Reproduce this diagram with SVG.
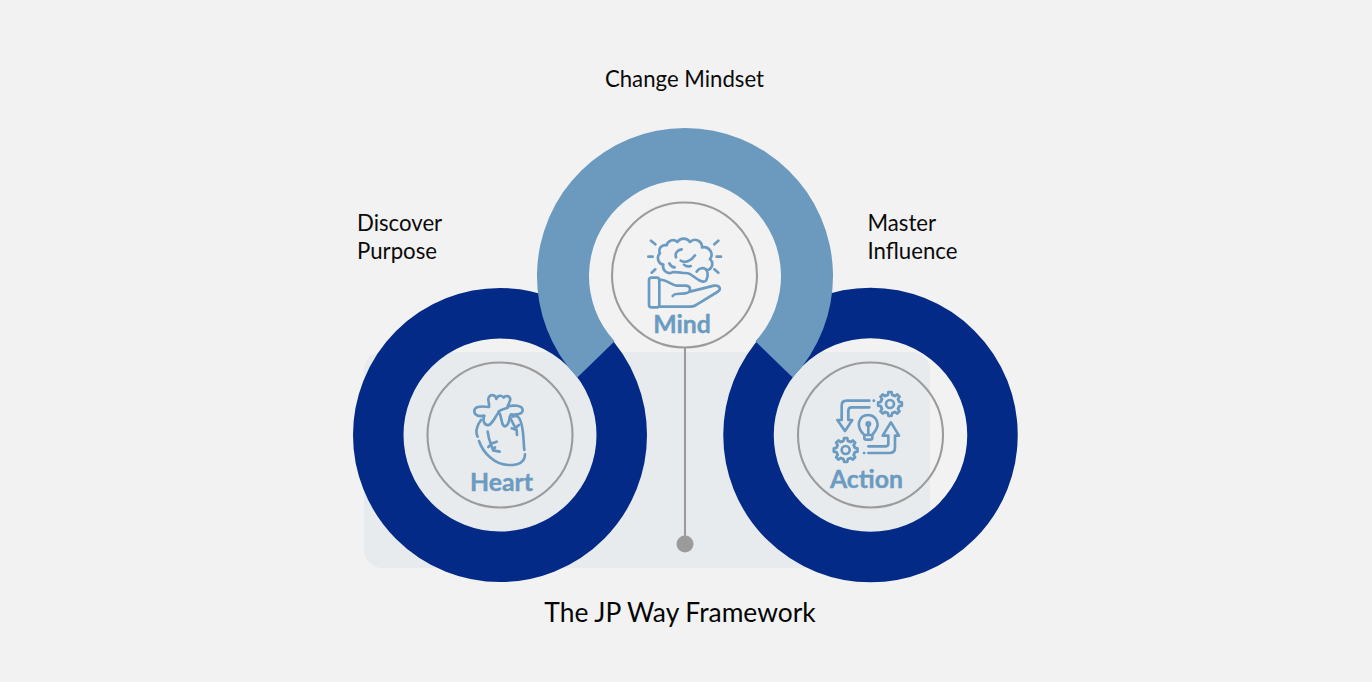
<svg xmlns="http://www.w3.org/2000/svg" xmlns:xlink="http://www.w3.org/1999/xlink" width="1372" height="682" viewBox="0 0 1372 682">
<style>
.lbl{font-family:"Lato","Noto Sans",sans-serif;font-size:22.2px;fill:#0a0a0a}
.title{font-family:"Lato","Noto Sans",sans-serif;font-size:26.4px;fill:#050505}
.nm{font-family:"Lato","Noto Sans",sans-serif;font-size:24.8px;font-weight:700;fill:#6c9bc1;stroke:#6c9bc1;stroke-width:.4;text-anchor:middle}
.ring{fill:none;stroke:#032a87;stroke-width:50.5}
.inner{fill:none;stroke:#9b9b9b;stroke-width:2.1}
.ic{fill:none;stroke:#6c9bc1;stroke-width:8;stroke-linecap:round;stroke-linejoin:round}
</style>
<defs>
<path id="tooth" d="M25.9-10.700L27.300-6.300L35.600-5V5L27.300 6.300L25.900 10.700"/>
<g id="gear" class="ic">
<use xlink:href="#tooth" href="#tooth"/>
<use xlink:href="#tooth" href="#tooth" transform="rotate(45)"/>
<use xlink:href="#tooth" href="#tooth" transform="rotate(90)"/>
<use xlink:href="#tooth" href="#tooth" transform="rotate(135)"/>
<use xlink:href="#tooth" href="#tooth" transform="rotate(180)"/>
<use xlink:href="#tooth" href="#tooth" transform="rotate(225)"/>
<use xlink:href="#tooth" href="#tooth" transform="rotate(270)"/>
<use xlink:href="#tooth" href="#tooth" transform="rotate(315)"/>
<circle r="12"/>
</g>
</defs>
<rect width="1372" height="682" fill="#f2f2f2"/>
<rect id="panel" x="364" y="352" width="566" height="216" rx="18" fill="#e8ebee"/>

<g id="heart">
<circle class="ring" cx="500" cy="435" r="121.750"/>
<circle class="inner" cx="500" cy="435" r="72.500"/>
<g transform="translate(465 385) scale(.3333)">
<path class="ic" d="M58 92C42 96 28 92 28 78C28 66 42 62 72 66C74 52 66 44 72 36A12 12 0 0 1 94 42A12 12 0 0 1 116 38A11 11 0 0 1 136 42C136 50 130 56 128 64C145 60 172 60 173 75C173 88 155 90 138 88C130 100 135 122 120 124C108 124 112 98 102 82C92 90 88 110 72 120C58 122 52 108 58 92Z"/>
<path class="ic" d="M100 80C108 72 118 72 128 68"/>
<path class="ic" d="M48 105C32 125 32 145 38 155M42 168C55 205 90 240 130 240C160 241 180 232 180 208M178 195C174 165 178 125 163 100C158 92 150 92 144 95"/>
<path class="ic" d="M68 140C70 155 72 165 78 178L84 195M78 178L70 186M78 176L95 170M84 195L90 187M84 196L104 200"/>
<path class="ic" d="M135 95C140 110 148 122 155 135L156 150M150 130L162 120M155 135L140 130"/>
</g>
<text class="nm" x="501.500" y="491">Heart</text>
</g>

<g id="action">
<circle class="ring" cx="870.500" cy="435" r="122"/>
<circle class="inner" cx="870.500" cy="435" r="72.500"/>
<g transform="translate(825 385) scale(.3333)">
<use href="#gear" xlink:href="#gear" transform="translate(195 57)"/>
<use href="#gear" xlink:href="#gear" transform="translate(62 195)"/>
<path class="ic" d="M133 47H65Q50 47 50 62V105H37L60 138L82 105H70V78Q70 67 80 67H133M146 47H147"/>
<path class="ic" d="M118 150C105 138 100 128 102 112C106 96 118 90 130 90C146 90 158 104 158 118C158 132 148 140 142 150V158Q142 164 136 164H124Q118 164 118 158ZM118 150H142M130 123V150"/>
<circle class="ic" cx="130" cy="117" r="5"/>
<path class="ic" d="M130 184H180Q190 184 190 176V152H173L198 112L222 152H210V188Q210 204 192 204H130M117 204H118"/>
</g>
<text class="nm" x="866.500" y="488">Action</text>
</g>

<g id="mind">
<path d="M577.300 377.600A148 148 0 1 1 792.700 377.600L755.400 341.300A96 96 0 1 0 614.600 341.300Z" fill="#6c9abf"/>
<circle class="inner" cx="684.500" cy="275" r="72.500"/>
<g transform="translate(640 230) scale(.3333)">
<path class="ic" d="M33 32L46 43M235 32L223 43M25 80H38M230 80H243M35 128L46 118M223 118L235 128"/>
<path class="ic" d="M100 126A20 20 0 0 1 70 104A20 20 0 0 1 60 70A17 17 0 0 1 80 46A19 19 0 0 1 112 36A23 23 0 0 1 150 36A21 21 0 0 1 186 52A23 23 0 0 1 210 88A18 18 0 0 1 200 120C204 130 204 142 198 152C190 160 182 152 176 150L150 132C140 128 132 130 125 128C118 128 108 126 100 126Z"/>
<path class="ic" d="M125 58C112 60 104 70 108 82M122 92C135 100 155 92 165 76M88 100C92 108 98 112 104 112M170 125C178 112 192 112 200 120M132 104C138 110 146 110 152 108"/>
<path class="ic" d="M27 151Q27 143 35 143H50Q58 143 58 151V224Q58 232 50 232H35Q27 232 27 224Z"/>
<path class="ic" d="M58 150C75 145 92 165 110 167H135C155 167 155 188 135 190L110 192C105 192 100 195 98 198M150 185L222 167C240 165 245 178 232 186L170 224C165 228 160 230 152 230H58"/>
</g>
<text class="nm" x="682" y="332.500">Mind</text>
</g>

<g id="connectors">
<line x1="685" y1="347" x2="685" y2="544" stroke="#9b9b9b" stroke-width="2.100"/>
<circle cx="685" cy="544" r="8.500" fill="#9b9b9b"/>
</g>

<g id="labels">
<text class="lbl" x="684.500" y="87" text-anchor="middle">Change Mindset</text>
<text class="lbl" x="357" y="231">Discover</text>
<text class="lbl" x="357" y="259">Purpose</text>
<text class="lbl" x="867.500" y="231">Master</text>
<text class="lbl" x="867.500" y="259">Influence</text>
<text class="title" x="680" y="622" text-anchor="middle">The JP Way Framework</text>
</g>
</svg>
